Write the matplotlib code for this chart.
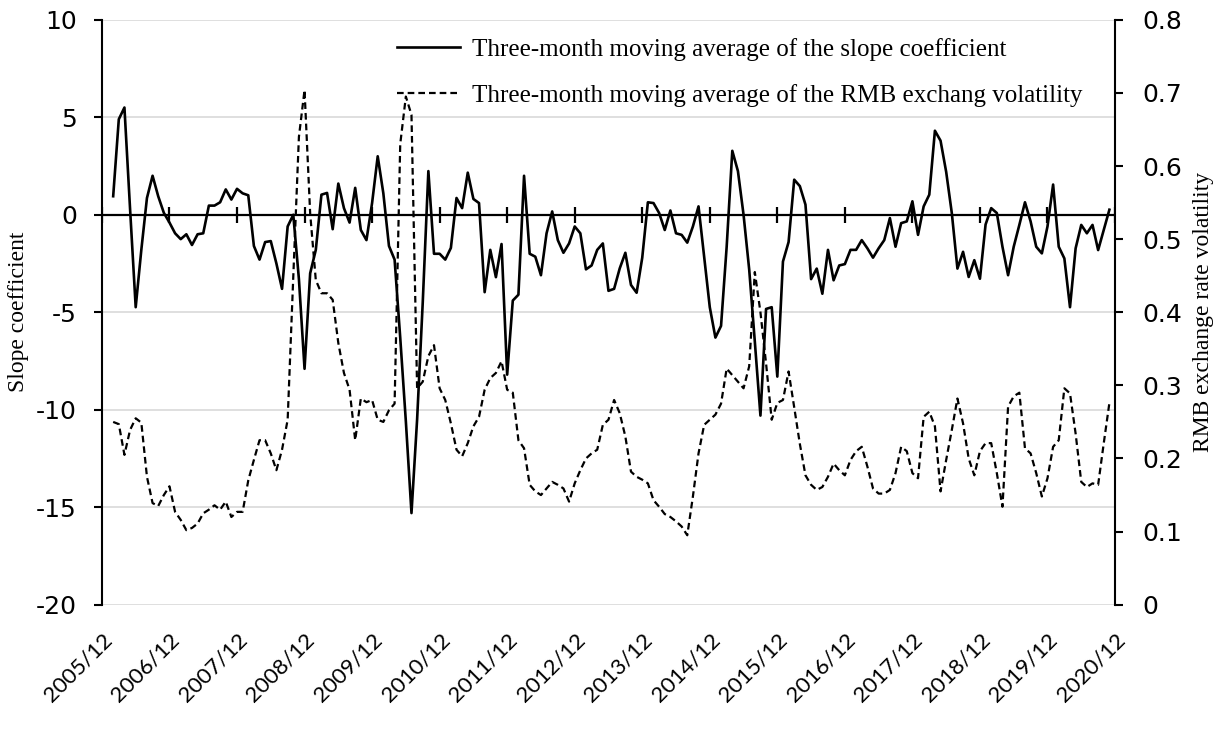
import matplotlib

matplotlib.use("Agg")
import matplotlib.pyplot as plt
import numpy as np

# x axis: one category per month, 2005/12 .. 2020/12 (index 0..180)
x_labels = ["2005/12", "2006/12", "2007/12", "2008/12", "2009/12", "2010/12",
            "2011/12", "2012/12", "2013/12", "2014/12", "2015/12", "2016/12",
            "2017/12", "2018/12", "2019/12", "2020/12"]
x_label_months = [12 * k for k in range(len(x_labels))]
first_month = 2  # a 3-month moving average starts in 2006/02

# three-month moving average of the slope coefficient (left axis)
slope = [
    0.95, 4.9, 5.5, 0.3, -4.74, -1.8, 0.86, 2.0, 0.95, 0.1,
    -0.4, -0.95, -1.25, -1.0, -1.55, -1.0, -0.95, 0.47, 0.47, 0.64,
    1.3, 0.78, 1.33, 1.1, 1.0, -1.6, -2.3, -1.4, -1.35, -2.5,
    -3.8, -0.6, 0.0, -3.3, -7.9, -3.0, -1.8, 1.03, 1.12, -0.74,
    1.6, 0.34, -0.4, 1.38, -0.78, -1.3, 0.6, 3.0, 1.1, -1.6,
    -2.3, -6.3, -10.6, -15.3, -10.5, -4.5, 2.24, -2.0, -2.0, -2.3,
    -1.7, 0.86, 0.34, 2.16, 0.81, 0.6, -3.97, -1.8, -3.2, -1.5,
    -8.2, -4.4, -4.1, 2.0, -2.0, -2.15, -3.1, -0.95, 0.17, -1.3,
    -1.95, -1.47, -0.6, -0.95, -2.8, -2.6, -1.8, -1.47, -3.9, -3.8,
    -2.75, -1.95, -3.6, -4.0, -2.2, 0.64, 0.6, 0.09, -0.78, 0.22,
    -0.95, -1.03, -1.43, -0.6, 0.43, -2.15, -4.74, -6.3, -5.7, -1.64,
    3.28, 2.24, 0.0, -2.8, -6.5, -10.3, -4.83, -4.74, -8.3, -2.4,
    -1.4, 1.8, 1.47, 0.52, -3.3, -2.76, -4.05, -1.8, -3.36, -2.6,
    -2.53, -1.8, -1.8, -1.3, -1.72, -2.2, -1.72, -1.3, -0.17, -1.64,
    -0.43, -0.34, 0.69, -1.03, 0.43, 1.03, 4.31, 3.8, 2.2, 0.09,
    -2.76, -1.9, -3.19, -2.33, -3.28, -0.5, 0.34, 0.09, -1.64, -3.1,
    -1.64, -0.52, 0.64, -0.34, -1.64, -1.98, -0.6, 1.55, -1.64, -2.24,
    -4.74, -1.72, -0.52, -0.95, -0.52, -1.81, -0.78, 0.26,
]

# three-month moving average of the RMB exchange rate volatility (right axis)
volatility = [
    0.25, 0.247, 0.205, 0.239, 0.255, 0.249, 0.175, 0.139, 0.135, 0.15,
    0.162, 0.127, 0.116, 0.102, 0.105, 0.111, 0.125, 0.13, 0.136, 0.13,
    0.141, 0.12, 0.127, 0.127, 0.17, 0.198, 0.225, 0.225, 0.207, 0.184,
    0.212, 0.253, 0.449, 0.64, 0.704, 0.535, 0.444, 0.426, 0.426, 0.417,
    0.358, 0.317, 0.294, 0.225, 0.282, 0.277, 0.28, 0.253, 0.25, 0.266,
    0.275, 0.63, 0.695, 0.67, 0.296, 0.305, 0.34, 0.355, 0.296, 0.28,
    0.248, 0.212, 0.203, 0.221, 0.244, 0.257, 0.294, 0.31, 0.317, 0.333,
    0.294, 0.29, 0.225, 0.214, 0.164, 0.155, 0.15, 0.159, 0.168, 0.164,
    0.159, 0.141, 0.166, 0.184, 0.2, 0.207, 0.212, 0.246, 0.253, 0.28,
    0.262, 0.23, 0.182, 0.175, 0.171, 0.166, 0.143, 0.134, 0.124, 0.12,
    0.114, 0.107, 0.095, 0.148, 0.207, 0.246, 0.253, 0.26, 0.275, 0.323,
    0.314, 0.305, 0.296, 0.326, 0.455, 0.40, 0.33, 0.253, 0.276, 0.28,
    0.319, 0.27, 0.22, 0.177, 0.164, 0.157, 0.161, 0.175, 0.193, 0.184,
    0.177, 0.198, 0.21, 0.216, 0.189, 0.159, 0.152, 0.152, 0.157, 0.18,
    0.216, 0.21, 0.18, 0.173, 0.257, 0.264, 0.244, 0.155, 0.198, 0.239,
    0.282, 0.248, 0.2, 0.177, 0.21, 0.221, 0.221, 0.18, 0.134, 0.271,
    0.285, 0.29, 0.214, 0.207, 0.18, 0.148, 0.173, 0.216, 0.225, 0.296,
    0.289, 0.234, 0.168, 0.161, 0.166, 0.164, 0.221, 0.276,
]

left_ticks = [-20, -15, -10, -5, 0, 5, 10]
right_ticks = [0, 0.1, 0.2, 0.3, 0.4, 0.5, 0.6, 0.7, 0.8]
right_labels = ["0", "0.1", "0.2", "0.3", "0.4", "0.5", "0.6", "0.7", "0.8"]

SERIF = "Liberation Serif"
TICK_FONT = "DejaVu Sans"

months = np.arange(first_month, first_month + len(slope))

fig = plt.figure(figsize=(12.28, 7.33), dpi=100)
ax = fig.add_axes([0.083, 0.175, 0.825, 0.798])
ax2 = ax.twinx()

# left axis
ax.set_xlim(0, x_label_months[-1])
ax.set_ylim(left_ticks[0], left_ticks[-1])
ax.set_yticks(left_ticks)
ax.set_yticklabels([str(t) for t in left_ticks], fontsize=18, family=TICK_FONT)
ax.yaxis.grid(True, color="#d9d9d9", linewidth=1.2)
ax.set_axisbelow(True)
ax.tick_params(axis="y", direction="out", length=6, width=1.5, pad=12)
ax.set_ylabel("Slope coefficient", fontsize=17, family=SERIF)
ax.yaxis.set_label_coords(-0.072, 0.5)

ax.set_xticks(x_label_months)
ax.set_xticklabels(x_labels, rotation=45, ha="right", va="top",
                   rotation_mode="anchor", fontsize=16, family="Lato")
ax.tick_params(axis="x", length=0, pad=18)

for side in ("top", "bottom", "right"):
    ax.spines[side].set_visible(False)
ax.spines["left"].set_linewidth(1.5)

# right axis
ax2.set_ylim(right_ticks[0], right_ticks[-1])
ax2.set_yticks(right_ticks)
ax2.set_yticklabels(right_labels, fontsize=18, family=TICK_FONT)
ax2.tick_params(axis="y", direction="out", length=6, width=1.5, pad=14)
ax2.set_ylabel("RMB exchange rate volatility", fontsize=17, family=SERIF,
               rotation=90)
ax2.yaxis.set_label_coords(1.077, 0.5)
for side in ("top", "bottom", "left"):
    ax2.spines[side].set_visible(False)
ax2.spines["right"].set_linewidth(1.5)

# zero line with category tick marks
ax.axhline(0, color="black", linewidth=1.6, zorder=2)
ax.plot(x_label_months, np.zeros(len(x_label_months)), linestyle="none",
        marker="|", markersize=12, markeredgewidth=1.6, color="black", zorder=2)

h1, = ax.plot(months, slope, color="black", linewidth=1.9, zorder=3,
              label="Three-month moving average of the slope coefficient")
h2, = ax2.plot(months, volatility, color="black", linewidth=1.6,
               linestyle=(0, (3, 1.8)), zorder=3,
               label="Three-month moving average of the RMB exchang volatility")

ax2.legend(handles=[h1, h2], loc="upper left", bbox_to_anchor=(0.3135, 0.965),
           bbox_transform=fig.transFigure, frameon=False, borderpad=0,
           handlelength=2.5, handletextpad=0.5, labelspacing=0.9,
           prop={"family": SERIF, "size": 18})

fig.savefig("out.png", dpi=100)
plt.close(fig)
